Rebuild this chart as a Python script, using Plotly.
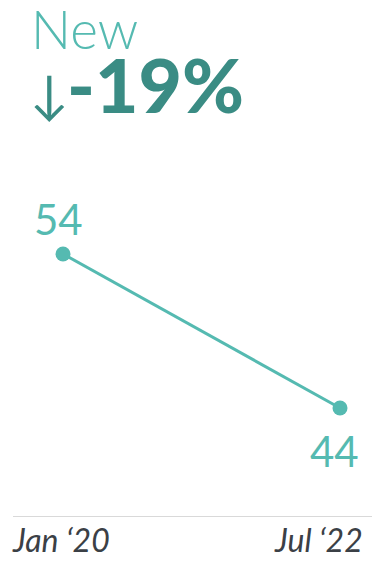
import plotly.graph_objects as go

# Data
periods = ["Jan \u201820", "Jul \u201822"]
positions = [0, 1]
values = [54, 44]
title_text = "New"
change_text = "-19%"

line_color = "#55bab1"
dark_teal = "#3a8c84"
axis_text = "#3b4046"

fig = go.Figure()
fig.add_trace(go.Scatter(
    x=positions, y=values, mode="lines+markers",
    line=dict(color=line_color, width=3),
    marker=dict(color=line_color, size=15),
    hoverinfo="skip", showlegend=False, cliponaxis=False,
))

# value labels
fig.add_annotation(x=positions[0], y=values[0], text=str(values[0]),
                   showarrow=False, yshift=35, xshift=-5,
                   font=dict(family="Lato", size=42, color=line_color))
fig.add_annotation(x=positions[1], y=values[1], text=str(values[1]),
                   showarrow=False, yshift=-43, xshift=-6,
                   font=dict(family="Lato", size=42, color=line_color))

# period labels under the baseline
fig.add_annotation(x=positions[0], y=0, yref="paper", text=periods[0],
                   showarrow=False, xanchor="center", yanchor="top", yshift=-2, xshift=-2,
                   font=dict(family="Lato", size=32, color=axis_text, style="italic"))
fig.add_annotation(x=positions[1], y=0, yref="paper", text=periods[1],
                   showarrow=False, xanchor="right", yanchor="top", yshift=-2, xshift=25,
                   font=dict(family="Lato", size=32, color=axis_text, style="italic"))

# headline
fig.add_annotation(x=0, xref="paper", y=1, yref="paper", text=title_text,
                   showarrow=False, xanchor="left", yanchor="bottom",
                   xshift=16, yshift=88,
                   font=dict(family="Lato", size=53, color=line_color, weight=300))
fig.add_annotation(x=0, xref="paper", y=1, yref="paper", text="\u2193",
                   showarrow=False, xanchor="left", yanchor="bottom",
                   xshift=15, yshift=24,
                   font=dict(family="Lato", size=52, color=dark_teal))
fig.add_annotation(x=0, xref="paper", y=1, yref="paper", text=change_text,
                   showarrow=False, xanchor="left", yanchor="bottom",
                   xshift=52, yshift=19,
                   font=dict(family="Lato", size=75, color=dark_teal, weight=900))

fig.update_xaxes(range=[-0.1805, 1.1155], showgrid=False, zeroline=False,
                 showticklabels=False, showline=True, linecolor="#d9d9d9",
                 linewidth=1, fixedrange=True)
fig.update_yaxes(range=[36.99, 60.75], showgrid=False, zeroline=False,
                 showticklabels=False, showline=False, fixedrange=True)

fig.update_layout(
    width=372, height=561,
    margin=dict(l=13, r=0, t=150, b=45),
    paper_bgcolor="white", plot_bgcolor="white",
)

fig.write_html("out.html")
